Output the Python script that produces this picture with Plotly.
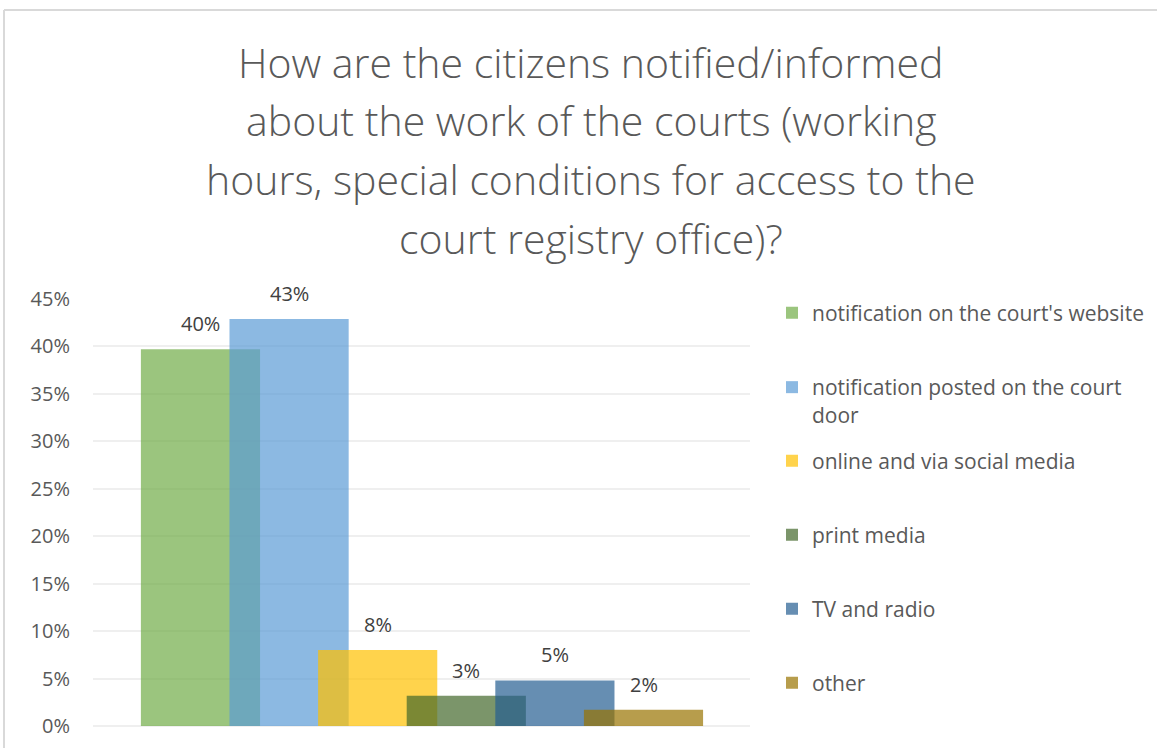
import plotly.graph_objects as go

# Survey shares per notification channel
channels = [
    "notification on the court's website",
    "notification posted on the court door",
    "online and via social media",
    "print media",
    "TV and radio",
    "other",
]
legend_text = [
    "notification on the court's website",
    "notification posted on the court<br>door",
    "online and via social media",
    "print media",
    "TV and radio",
    "other",
]
shares = [0.397, 0.429, 0.080, 0.032, 0.048, 0.017]
y_ticks = [0.00, 0.05, 0.10, 0.15, 0.20, 0.25, 0.30, 0.35, 0.40, 0.45]

title_lines = [
    "How are the citizens notified/informed",
    "about the work of the courts (working",
    "hours, special conditions for access to the",
    "court registry office)?",
]

palette = ["#70AD47", "#5B9BD5", "#FFC000", "#43682B", "#255E91", "#997300"]
ALPHA = 0.7


def rgba(hex_color, a):
    h = hex_color.lstrip("#")
    r, g, b = (int(h[i:i + 2], 16) for i in (0, 2, 4))
    return f"rgba({r},{g},{b},{a})"


# Page geometry (pixels) used to place elements outside the plot area
W, H = 1157, 748
PLOT_L, PLOT_R, PLOT_T, PLOT_B = 93, 750, 299, 726


def py(p):
    """pixel row -> paper y"""
    return (PLOT_B - p) / (PLOT_B - PLOT_T)


def px(p):
    """pixel column -> paper x"""
    return (p - PLOT_L) / (PLOT_R - PLOT_L)


TEXT_GREY = "#595959"
FONT = "Open Sans"

fig = go.Figure()

legend_rows = [313, 387, 461, 535, 609, 683]
for i, (name, val) in enumerate(zip(channels, shares)):
    lg = "legend" if i == 0 else f"legend{i + 1}"
    fig.add_trace(
        go.Bar(
            x=[i],
            y=[val],
            width=1.345,
            name=legend_text[i],
            marker=dict(color=rgba(palette[i], ALPHA), line=dict(width=0)),
            legend=lg,
            hovertemplate=f"{name}: %{{y:.0%}}<extra></extra>",
        )
    )

# value labels above each bar
annotations = []
for i, val in enumerate(shares):
    annotations.append(
        dict(
            x=i, y=val, xref="x", yref="y",
            text=f"{val:.0%}",
            showarrow=False,
            yanchor="bottom",
            yshift=10,
            font=dict(family=FONT, size=20, color="#404040"),
        )
    )

# multi-line title with wide line spacing
title_rows = [62, 120, 179, 238]
for line, row in zip(title_lines, title_rows):
    annotations.append(
        dict(
            x=px(591), y=py(row), xref="paper", yref="paper",
            text=line, showarrow=False,
            xanchor="center", yanchor="middle",
            font=dict(family=FONT, size=41, color=TEXT_GREY, weight=300),
        )
    )

layout_legends = {}
for i in range(len(channels)):
    key = "legend" if i == 0 else f"legend{i + 1}"
    two_line = "<br>" in legend_text[i]
    layout_legends[key] = dict(
        x=px(772),
        xanchor="left",
        y=py(legend_rows[i] - 20) if two_line else py(legend_rows[i]),
        yanchor="top" if two_line else "middle",
        valign="top",
        font=dict(family=FONT, size=21, color=TEXT_GREY),
        bgcolor="rgba(0,0,0,0)",
        borderwidth=0,
        itemclick=False,
        itemdoubleclick=False,
    )

# chart frame (left and top edges)
shapes = [
    dict(type="line", xref="paper", yref="paper",
         x0=px(4), x1=px(4), y0=py(760), y1=py(10),
         line=dict(color="#D9D9D9", width=2)),
    dict(type="line", xref="paper", yref="paper",
         x0=px(4), x1=px(1170), y0=py(10), y1=py(10),
         line=dict(color="#D9D9D9", width=2)),
]

fig.update_layout(
    width=W,
    height=H,
    barmode="overlay",
    margin=dict(l=PLOT_L, r=W - PLOT_R, t=PLOT_T, b=H - PLOT_B, pad=0,
                autoexpand=False),
    paper_bgcolor="white",
    plot_bgcolor="white",
    showlegend=True,
    annotations=annotations,
    shapes=shapes,
    xaxis=dict(
        range=[-1.213, 6.202],
        showticklabels=False,
        showgrid=False,
        zeroline=False,
        ticks="",
        fixedrange=True,
    ),
    yaxis=dict(
        range=[0, 0.45],
        tickvals=y_ticks,
        tickformat=".0%",
        showgrid=True,
        gridcolor="#EFEFEF",
        gridwidth=1.5,
        zeroline=True,
        zerolinecolor="#EFEFEF",
        zerolinewidth=1.5,
        showline=False,
        ticks="",
        ticklabelstandoff=22,
        tickfont=dict(family=FONT, size=20, color=TEXT_GREY),
        fixedrange=True,
    ),
    **layout_legends,
)

fig.write_html("out.html", config={"displayModeBar": False})
